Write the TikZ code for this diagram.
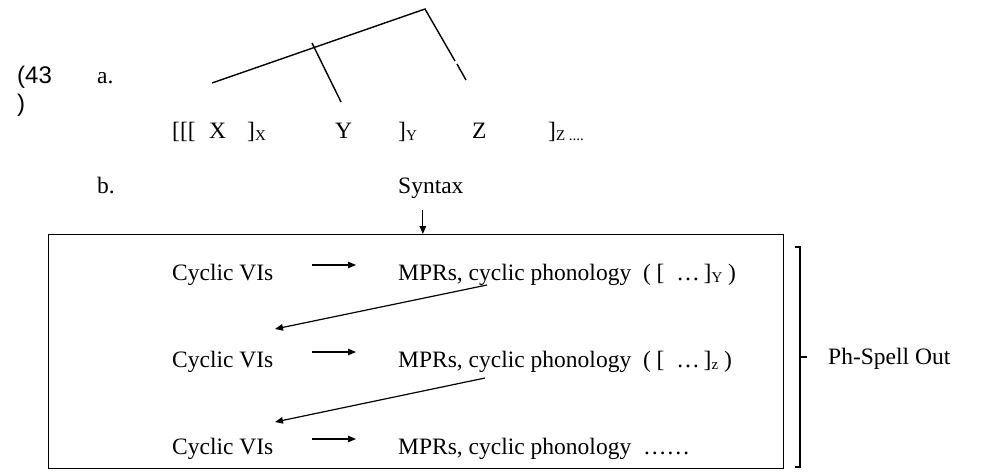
\documentclass[tikz,border=0pt]{standalone}
\usepackage{fontspec}
\setmainfont{Liberation Serif}
\newfontfamily\exnumfont{Liberation Sans}
\usepackage{tikz}
\usetikzlibrary{arrows.meta, positioning}

\newcommand{\lsub}[1]{\raisebox{-2pt}{\fontsize{15}{18}\selectfont #1}}

\begin{document}
\begin{tikzpicture}[
  x=1pt, y=-1pt,
  node distance=87pt and 40pt,
  txt/.style={inner sep=0pt, anchor=base west, font=\fontsize{23.5}{28}\selectfont},
  exnum/.style={inner sep=0pt, anchor=base west, font=\exnumfont\fontsize{24}{28}\selectfont},
  arr/.style={-{Triangle[length=8pt, width=6.5pt]}, line width=1.2pt},
  tree/.style={line width=1.4pt},
]
\useasboundingbox (0,0) rectangle (1001,472);

% example number
\node[exnum] (num) at (17,83) {(43};
\node[exnum] (numpar) at (17,111) {)};

% a. bracketed structure
\node[txt] (la) at (97,83) {a.};
\node[txt] (brk) at (172,138) {[[[};
\node[txt] (nx) at (209,138) {X};
\node[txt] (bx) at (247,138) {]\lsub{X}};
\node[txt] (ny) at (335,138) {Y};
\node[txt] (by) at (398,138) {]\lsub{Y}};
\node[txt] (nz) at (472,138) {Z};
\node[txt] (bz) at (548,138) {]\lsub{Z ....}};

\coordinate (apex) at (425,9);
\coordinate (xtop) at (212,83);
\coordinate (ytop) at (312,43);
\coordinate (yend) at (341,102);
\coordinate (zgap) at (455,61);
\coordinate (zgapb) at (457,64);
\coordinate (zend) at (466,80);
\draw[tree] (xtop) -- (apex) -- (zgap);
\draw[tree] (zgapb) -- (zend);
\draw[tree] (ytop) -- (yend);

% b. spell-out cycle
\node[txt] (lb) at (97,193) {b.};
\node[txt] (syn) at (398,193) {Syntax};
\node[draw, line width=1.3pt, inner sep=0pt, minimum width=735pt, minimum height=234pt, anchor=north west] (spell) at (48,234) {};
\draw[arr] ([xshift=-8pt, yshift=-12pt]syn.south) -- ([xshift=-8pt]syn.south |- spell.north);

\node[txt] (cyc1) at (172,280) {Cyclic VIs};
\node[txt] (mpr1) at (398,280) {MPRs, cyclic phonology\ \ (\ [\ \ …\,]\lsub{Y}\ )};
\node[txt, below=87pt of cyc1.base west, anchor=base west] (cyc2) {Cyclic VIs};
\node[txt, below=87pt of mpr1.base west, anchor=base west] (mpr2) {MPRs, cyclic phonology\ \ (\ [\ \ …\,]\lsub{z}\ )};
\node[txt, below=87pt of cyc2.base west, anchor=base west] (cyc3) {Cyclic VIs};
\node[txt, below=87pt of mpr2.base west, anchor=base west] (mpr3) {MPRs, cyclic phonology\ \ ……};

\draw[arr] ([xshift=140pt, yshift=15pt]cyc1.base west) -- ([xshift=-42pt, yshift=15pt]mpr1.base west);
\draw[arr] ([xshift=140pt, yshift=15pt]cyc2.base west) -- ([xshift=-42pt, yshift=15pt]mpr2.base west);
\draw[arr] ([xshift=140pt, yshift=15pt]cyc3.base west) -- ([xshift=-42pt, yshift=15pt]mpr3.base west);

\draw[arr] ([xshift=89pt, yshift=-5pt]mpr1.base west) -- ([xshift=103pt, yshift=38pt]cyc2.base west);
\draw[arr] ([xshift=87pt, yshift=-11pt]mpr2.base west) -- ([xshift=103pt, yshift=32pt]cyc3.base west);

% Ph-Spell Out bracket
\coordinate (brtop) at (800,247);
\coordinate (brbot) at (800,467);
\coordinate (brmid) at (800,357);
\draw[line width=1.2pt] ([xshift=-5pt]brtop) -- (brtop) -- (brbot) -- ([xshift=-5pt]brbot);
\draw[line width=1.2pt] (brmid) -- ([xshift=7pt]brmid);
\node[txt] (phso) at (828,364) {Ph-Spell Out};

\end{tikzpicture}
\end{document}
